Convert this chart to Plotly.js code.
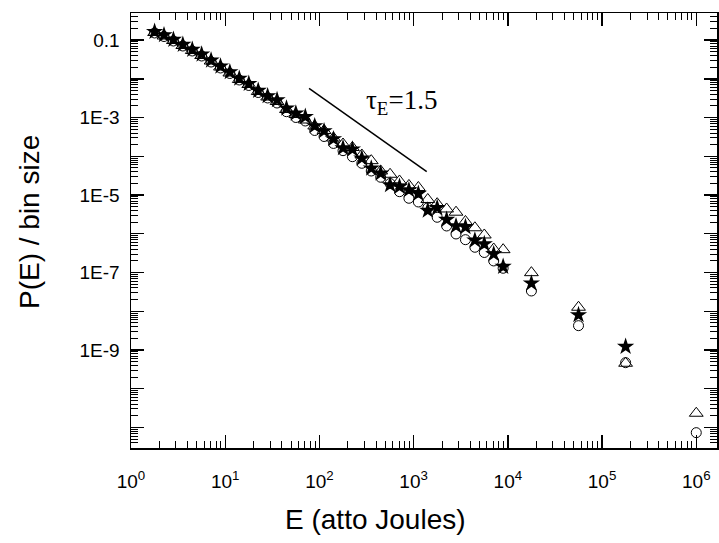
<!DOCTYPE html>
<html>
<head>
<meta charset="utf-8">
<script src="https://cdn.plot.ly/plotly-3.0.1.min.js"></script>
<style>html,body{margin:0;padding:0;background:#fff;}#chart{width:719px;height:543px;}</style>
</head>
<body>
<div id="chart"></div>
<script>
// Energy bins (atto Joules)
const energy = [1.78, 2.24, 2.82, 3.55, 4.47, 5.62, 7.08, 8.91, 11.2, 14.1,
  17.8, 22.4, 28.2, 35.5, 44.7, 56.2, 70.8, 89.1, 112, 141,
  178, 224, 282, 355, 447, 562, 708, 891, 1122, 1413,
  1778, 2239, 2818, 3548, 4467, 5623, 7079, 8913,
  17783, 56234, 177828, 1000000];

// P(E)/bin size, filled stars
const starSeries = [0.165, 0.1355, 0.1031, 0.0766, 0.0569, 0.0430, 0.0301, 0.0211, 0.01503, 0.01022,
  0.00750, 0.00495, 0.00361, 0.00285, 0.00174, 0.00129, 0.001054, 6.07e-4, 4.51e-4, 2.80e-4,
  1.64e-4, 1.52e-4, 8.90e-5, 4.91e-5, 3.65e-5, 1.82e-5, 1.645e-5, 1.352e-5, 1.085e-5, 4.00e-6,
  4.69e-6, 2.33e-6, 1.59e-6, 1.50e-6, 6.80e-7, 5.46e-7, 3.01e-7, 1.416e-7,
  5.28e-8, 8.03e-9, 1.22e-9, null];

// open circles
const circleSeries = [0.1527, 0.1240, 0.0949, 0.0705, 0.0524, 0.0389, 0.0272, 0.01907, 0.01375, 0.00935,
  0.00674, 0.00444, 0.00321, 0.00238, 0.00142, 0.001006, 8.17e-4, 4.65e-4, 3.25e-4, 2.15e-4,
  1.40e-4, 9.79e-5, 6.61e-5, 4.18e-5, 2.88e-5, 1.99e-5, 1.223e-5, 8.26e-6, 6.63e-6, 4.64e-6,
  2.67e-6, 1.59e-6, 9.89e-7, 7.05e-7, 4.49e-7, 3.29e-7, 1.99e-7, 1.288e-7,
  3.34e-8, 4.25e-9, 4.71e-10, 7.35e-12];

// open triangles
const triangleSeries = [0.1573, 0.1278, 0.0977, 0.0726, 0.0540, 0.0401, 0.0289, 0.0202, 0.01417, 0.00963,
  0.00715, 0.00472, 0.00340, 0.00260, 0.00162, 0.00120, 8.67e-4, 6.07e-4, 4.65e-4, 2.97e-4,
  2.08e-4, 1.69e-4, 1.083e-4, 7.72e-5, 4.18e-5, 3.44e-5, 2.31e-5, 1.77e-5, 1.569e-5, 7.69e-6,
  5.99e-6, 4.37e-6, 3.61e-6, 2.08e-6, 1.43e-6, 9.32e-7, 4.06e-7, 3.89e-7,
  9.92e-8, 1.27e-8, 4.55e-10, 2.33e-11];

// guide line for tau_E = 1.5
const guideX = [77.6, 1377];
const guideY = [5.70e-3, 4.01e-5];

const xTickVals = [1, 10, 100, 1000, 10000, 100000, 1000000];
const xTickText = ['10<sup>0</sup>', '10<sup>1</sup>', '10<sup>2</sup>', '10<sup>3</sup>', '10<sup>4</sup>', '10<sup>5</sup>', '10<sup>6</sup>'];
const yLabelVals = [1e-1, 1e-3, 1e-5, 1e-7, 1e-9];
const yLabelText = ['0.1', '1E-3', '1E-5', '1E-7', '1E-9'];
const yDecadeVals = [1e-1, 1e-2, 1e-3, 1e-4, 1e-5, 1e-6, 1e-7, 1e-8, 1e-9, 1e-10, 1e-11];

const font = 'Liberation Sans, Arial, sans-serif';

const traces = [
  {x: energy, y: circleSeries, mode: 'markers', type: 'scatter',
   marker: {symbol: 'circle-open', size: 10, color: '#000', line: {width: 1, color: '#000'}}},
  {x: energy, y: triangleSeries, mode: 'markers', type: 'scatter',
   marker: {symbol: 'triangle-up-open', size: 12, color: '#000', line: {width: 1, color: '#000'}}},
  {x: energy, y: starSeries, mode: 'markers', type: 'scatter',
   marker: {symbol: 'star', size: 13, color: '#000', line: {width: 0}}},
  {x: guideX, y: guideY, mode: 'lines', type: 'scatter',
   line: {color: '#000', width: 1.5}},
  // carrier for the unlabeled decade ticks
  {x: [null], y: [null], yaxis: 'y2', mode: 'markers', type: 'scatter', hoverinfo: 'skip'}
];

const yRange = [-11.53, -0.30];

const axisCommon = {
  type: 'log', showgrid: false, zeroline: false, showline: true, linewidth: 1.5, linecolor: '#000',
  mirror: 'ticks', ticks: 'inside', ticklen: 13, tickwidth: 1.3, tickcolor: '#000',
  tickfont: {family: font, size: 19, color: '#000'},
  minor: {ticks: 'inside', ticklen: 7, tickwidth: 1, tickcolor: '#000', dtick: 'D1', showgrid: false}
};

const layout = {
  width: 719, height: 543,
  margin: {l: 131, r: 2, t: 13, b: 95},
  paper_bgcolor: '#fff', plot_bgcolor: '#fff',
  showlegend: false,
  xaxis: Object.assign({}, axisCommon, {range: [0, 6.22], tickmode: 'array', tickvals: xTickVals, ticktext: xTickText, ticklabelstandoff: 16}),
  yaxis: Object.assign({}, axisCommon, {range: yRange, tickmode: 'array', tickvals: yLabelVals, ticktext: yLabelText, ticklabelstandoff: 6}),
  yaxis2: {type: 'log', overlaying: 'y', side: 'left', range: yRange, tickmode: 'array', tickvals: yDecadeVals,
    showticklabels: false, ticks: 'inside', ticklen: 13, tickwidth: 1.3, tickcolor: '#000',
    showline: false, mirror: 'ticks', showgrid: false, zeroline: false},
  annotations: [
    {text: 'E (atto Joules)', xref: 'paper', yref: 'paper', x: 0.418, y: -0.165, xanchor: 'center', yanchor: 'middle',
     showarrow: false, font: {family: font, size: 28, color: '#000'}},
    {text: 'P(E) / bin size', xref: 'paper', yref: 'paper', x: -0.172, y: 0.52, xanchor: 'center', yanchor: 'middle',
     textangle: -90, showarrow: false, font: {family: font, size: 28, color: '#000'}},
    {text: 'τ<sub>E</sub>=1.5', xref: 'paper', yref: 'paper', x: 0.462, y: 0.795, xanchor: 'center', yanchor: 'middle',
     showarrow: false, font: {family: 'Liberation Serif, Times New Roman, serif', size: 27, color: '#000'}}
  ]
};

Plotly.newPlot('chart', traces, layout, {displayModeBar: false, staticPlot: true});
</script>
</body>
</html>
